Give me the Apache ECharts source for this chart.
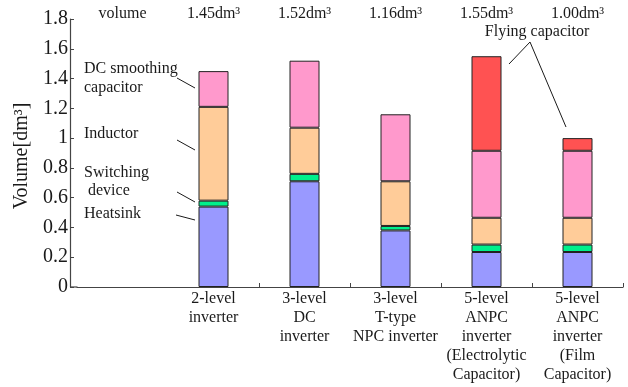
<!DOCTYPE html>
<html>
<head>
<meta charset="utf-8">
<script src="https://cdn.jsdelivr.net/npm/echarts@6/dist/echarts.min.js"></script>
<style>
  html, body { margin: 0; padding: 0; background: #fff; }
  #chart { width: 628px; height: 387px; }
</style>
</head>
<body>
<div id="chart"></div>
<script>
// Inverter topologies (one stacked bar each); the first slot is left blank
var categories = [
  '',
  '2-level\ninverter',
  '3-level\nDC\ninverter',
  '3-level\nT-type\nNPC inverter',
  '5-level\nANPC\ninverter\n(Electrolytic\nCapacitor)',
  '5-level\nANPC\ninverter\n(Film\nCapacitor)'
];
// Header row printed above the plot
var totals = ['volume', '1.45dm³', '1.52dm³', '1.16dm³', '1.55dm³', '1.00dm³'];

// Component volumes in dm³, bottom to top of each stack ('-' = no such part)
var heatsink    = ['-', 0.54, 0.71, 0.38, 0.235, 0.235];
var switching   = ['-', 0.04, 0.05, 0.03, 0.05, 0.05];
var inductor    = ['-', 0.63, 0.31, 0.30, 0.18, 0.18];
var dcCapacitor = ['-', 0.24, 0.45, 0.45, 0.45, 0.45];
var flyingCap   = ['-', '-', '-', '-', 0.635, 0.085];

var SERIF = "'Liberation Serif', 'Times New Roman', serif";
var INK = '#1a1a1a';
var AXIS = '#444';

function stackSeries(name, values, color) {
  return {
    name: name,
    type: 'bar',
    stack: 'volume',
    barWidth: 30,
    data: values,
    itemStyle: { color: color, borderColor: '#222', borderWidth: 1 },
    emphasis: { disabled: true }
  };
}

var t = function (text, x, y, extra, rotation) {
  var s = { text: text, font: '16px ' + SERIF, fill: INK, textAlign: 'left', textVerticalAlign: 'middle' };
  for (var k in extra) s[k] = extra[k];
  return { type: 'text', silent: true, x: x, y: y, rotation: rotation || 0, style: s };
};
var ln = function (x1, y1, x2, y2) {
  return { type: 'line', silent: true, shape: { x1: x1, y1: y1, x2: x2, y2: y2 }, style: { stroke: INK, lineWidth: 1 } };
};

var chart = echarts.init(document.getElementById('chart'), null, { renderer: 'canvas' });

chart.setOption({
  animation: false,
  grid: { left: 77, right: 5, top: 19, bottom: 100, containLabel: false },
  xAxis: [{
    type: 'category',
    data: categories,
    boundaryGap: true,
    axisLine: { show: true, lineStyle: { color: AXIS, width: 1.2 } },
    axisTick: {
      show: true, inside: true, length: 4,
      interval: function (index) { return index >= 2; },
      lineStyle: { color: AXIS }
    },
    axisLabel: {
      interval: 0, margin: 2,
      fontFamily: SERIF, fontSize: 16, lineHeight: 19, color: INK
    }
  }, {
    type: 'category',
    data: totals,
    position: 'top',
    axisLine: { show: false },
    axisTick: { show: false },
    axisLabel: { interval: 0, margin: -3, fontFamily: SERIF, fontSize: 16, color: INK }
  }],
  yAxis: {
    type: 'value',
    min: 0,
    max: 1.8,
    interval: 0.2,
    offset: 7,
    splitLine: { show: false },
    axisLine: { show: true, lineStyle: { color: AXIS, width: 1.2 } },
    axisTick: { show: true, inside: true, length: 4, lineStyle: { color: AXIS } },
    axisLabel: {
      margin: 2,
      fontFamily: SERIF, fontSize: 20, color: INK,
      formatter: function (v) { return String(Math.round(v * 10) / 10); }
    }
  },
  series: [
    stackSeries('Heatsink', heatsink, '#9999ff'),
    stackSeries('Switching device', switching, '#00f08c'),
    stackSeries('Inductor', inductor, '#ffcc99'),
    stackSeries('DC smoothing capacitor', dcCapacitor, '#ff99cc'),
    stackSeries('Flying capacitor', flyingCap, '#ff5252')
  ],
  graphic: [
    // baseline continues to the offset y axis
    { type: 'line', silent: true, shape: { x1: 70, y1: 287, x2: 77.5, y2: 287 }, style: { stroke: AXIS, lineWidth: 1.2 } },
    t('Volume[dm³]', 22, 156, { font: '20px ' + SERIF, textAlign: 'center' }, Math.PI / 2),
    t('DC smoothing', 84, 69),
    t('capacitor', 84, 88),
    t('Inductor', 84, 134),
    t('Switching', 84, 173),
    t('device', 88, 191),
    t('Heatsink', 84, 214),
    ln(177, 78, 195, 88),
    ln(177, 140, 195, 150),
    ln(177, 192, 195, 202),
    ln(176, 215, 195, 220),
    t('Flying capacitor', 537, 32, { textAlign: 'center' }),
    ln(530, 42, 509, 64),
    ln(530, 42, 566, 127)
  ]
});
</script>
</body>
</html>
